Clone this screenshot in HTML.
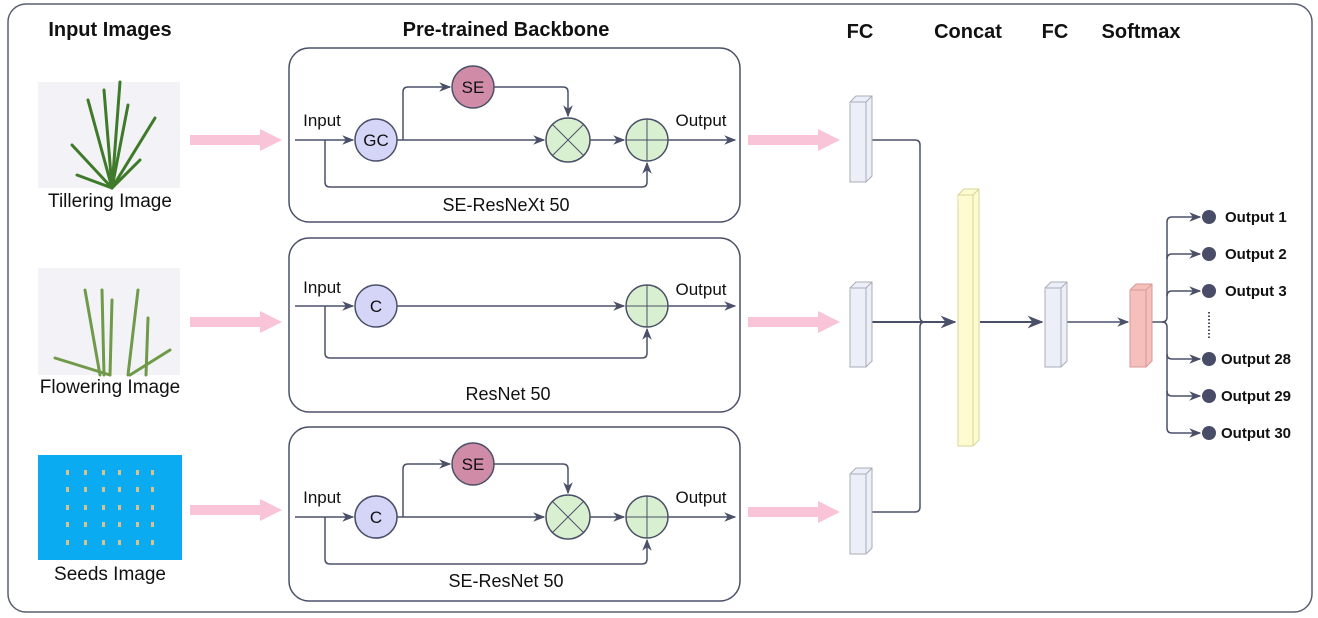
<!DOCTYPE html>
<html><head><meta charset="utf-8"><style>
html,body{margin:0;padding:0;background:#fff}
svg{display:block;font-family:"Liberation Sans",sans-serif}
</style></head><body>
<svg width="1318" height="618" viewBox="0 0 1318 618" xmlns="http://www.w3.org/2000/svg">
<defs>
<marker id="a" viewBox="0 0 10 10" refX="9" refY="5" markerWidth="8" markerHeight="8" orient="auto"><path d="M0,1 L10,5 L0,9 L3,5z" fill="#4a5068"/></marker>
<g id="pink"><rect x="0" y="-5" width="72" height="10" fill="#f9c3d8"/><path d="M70,-11 L92,0 L70,11z" fill="#f9c3d8"/></g>
</defs>
<rect x="8" y="4" width="1304" height="608" rx="18" fill="#fff" stroke="#5a5f70" stroke-width="1.5"/>
<g font-weight="bold" font-size="20" fill="#111" text-anchor="middle">
<text x="110" y="36">Input Images</text><text x="506" y="36">Pre-trained Backbone</text>
<text x="860" y="38">FC</text><text x="968" y="38">Concat</text><text x="1055" y="38">FC</text><text x="1141" y="38">Softmax</text>
</g>
<rect x="38" y="82" width="142" height="106" fill="#f3f3f7"/>
<g stroke="#3f7a2a" stroke-width="3" fill="none" stroke-linecap="round">
<path d="M112,188 L104,90"/><path d="M112,188 L120,82"/><path d="M112,188 L155,118"/><path d="M112,188 L72,145"/><path d="M112,188 L77,175"/><path d="M112,188 L140,160"/><path d="M112,188 L88,100"/><path d="M112,188 L128,105"/>
</g>
<rect x="38" y="268" width="142" height="107" fill="#f3f3f7"/>
<g stroke="#6f9a4a" stroke-width="3" fill="none" stroke-linecap="round">
<path d="M100,375 L85,290"/><path d="M104,375 L102,290"/><path d="M128,375 L138,290"/><path d="M146,375 L148,318"/><path d="M110,375 L55,358"/><path d="M130,375 L170,350"/><path d="M110,375 L112,300"/>
</g>
<rect x="38" y="455" width="144" height="105" fill="#0aabf0"/>
<g fill="#d8c48a">
<rect x="66" y="470" width="3" height="5"/><rect x="84" y="470" width="3" height="5"/><rect x="102" y="470" width="3" height="5"/><rect x="118" y="470" width="3" height="5"/><rect x="136" y="470" width="3" height="5"/><rect x="151" y="470" width="3" height="5"/>
<rect x="66" y="487" width="3" height="5"/><rect x="84" y="487" width="3" height="5"/><rect x="102" y="487" width="3" height="5"/><rect x="118" y="487" width="3" height="5"/><rect x="136" y="487" width="3" height="5"/><rect x="151" y="487" width="3" height="5"/>
<rect x="66" y="505" width="3" height="5"/><rect x="84" y="505" width="3" height="5"/><rect x="102" y="505" width="3" height="5"/><rect x="118" y="505" width="3" height="5"/><rect x="136" y="505" width="3" height="5"/><rect x="151" y="505" width="3" height="5"/>
<rect x="66" y="522" width="3" height="5"/><rect x="84" y="522" width="3" height="5"/><rect x="102" y="522" width="3" height="5"/><rect x="118" y="522" width="3" height="5"/><rect x="136" y="522" width="3" height="5"/><rect x="151" y="522" width="3" height="5"/>
<rect x="66" y="540" width="3" height="5"/><rect x="84" y="540" width="3" height="5"/><rect x="102" y="540" width="3" height="5"/><rect x="118" y="540" width="3" height="5"/><rect x="136" y="540" width="3" height="5"/><rect x="151" y="540" width="3" height="5"/>
</g>
<g font-size="19" fill="#111" text-anchor="middle">
<text x="110" y="207">Tillering Image</text><text x="110" y="393">Flowering Image</text><text x="110" y="580">Seeds Image</text>
</g>
<use href="#pink" x="190" y="140"/><use href="#pink" x="190" y="322"/><use href="#pink" x="190" y="510"/>
<use href="#pink" x="748" y="140"/><use href="#pink" x="748" y="322"/><use href="#pink" x="748" y="512"/>
<g fill="none" stroke="#4a5068" stroke-width="1.5">
<rect x="289" y="48" width="451" height="174" rx="20"/>
<rect x="289" y="238" width="451" height="174" rx="20"/>
<rect x="289" y="427" width="451" height="174" rx="20"/>
</g>
<g id="b1" stroke="#4a5068" stroke-width="1.5" fill="none">
<path d="M295,140 H353" marker-end="url(#a)"/>
<path d="M325,140 V182 Q325,187 330,187 H642 Q647,187 647,182 V163" marker-end="url(#a)"/>
<path d="M397,140 H544" marker-end="url(#a)"/>
<path d="M403,140 V92 Q403,87 408,87 H450" marker-end="url(#a)"/>
<path d="M494,87 H563 Q568,87 568,92 V116" marker-end="url(#a)"/>
<path d="M590,140 H624" marker-end="url(#a)"/>
<path d="M668,140 H735" marker-end="url(#a)"/>
<circle cx="473" cy="87" r="21" fill="#d08ba6"/>
<circle cx="568" cy="140" r="22" fill="#d9f0d0"/>
<path d="M552,124 L584,156 M584,124 L552,156" stroke-width="1"/>
<circle cx="647" cy="140" r="21" fill="#d9f0d0"/>
<path d="M626,140 H668 M647,119 V161" stroke-width="1"/>
<circle cx="376" cy="140" r="21" fill="#d5d5f7"/>
</g>
<g font-size="17" fill="#111" text-anchor="middle">
<text x="473" y="93">SE</text><text x="376" y="146">GC</text>
<text x="322" y="126">Input</text><text x="701" y="126">Output</text>
<text x="506" y="211" font-size="18">SE-ResNeXt 50</text>
</g>
<g transform="translate(0,377)">
<use href="#b1"/>
<circle cx="376" cy="140" r="21" fill="#d5d5f7" stroke="#4a5068" stroke-width="1.5"/>
<g font-size="17" fill="#111" text-anchor="middle">
<text x="473" y="93">SE</text><text x="376" y="146">C</text>
<text x="322" y="126">Input</text><text x="701" y="126">Output</text>
<text x="506" y="210" font-size="18">SE-ResNet 50</text>
</g>
</g>
<g stroke="#4a5068" stroke-width="1.5" fill="none">
<path d="M295,306 H353" marker-end="url(#a)"/>
<path d="M325,306 V353 Q325,358 330,358 H642 Q647,358 647,353 V329" marker-end="url(#a)"/>
<path d="M397,306 H624" marker-end="url(#a)"/>
<path d="M668,306 H735" marker-end="url(#a)"/>
<circle cx="647" cy="306" r="21" fill="#d9f0d0"/>
<path d="M626,306 H668 M647,285 V327" stroke-width="1"/>
<circle cx="376" cy="306" r="21" fill="#d5d5f7"/>
</g>
<g font-size="17" fill="#111" text-anchor="middle">
<text x="376" y="312">C</text><text x="322" y="293">Input</text><text x="701" y="295">Output</text>
<text x="508" y="400" font-size="18">ResNet 50</text>
</g>
<g stroke="#4a5068" stroke-width="1.5" fill="none">
<path d="M872,140 H915 Q920,140 920,145 V317 Q920,322 925,322"/>
<path d="M872,512 H915 Q920,512 920,507 V327 Q920,322 925,322"/>
<path d="M872,322 H955" marker-end="url(#a)" stroke-width="2"/>
<path d="M980,322 H1042" marker-end="url(#a)" stroke-width="2"/>
<path d="M1066,322 H1128" marker-end="url(#a)"/>
<path d="M1152,322 H1162 Q1167,322 1167,317 V222 Q1167,217 1172,217 H1200" marker-end="url(#a)"/>
<path d="M1167,259 Q1167,254 1172,254 H1200" marker-end="url(#a)"/>
<path d="M1167,296 Q1167,291 1172,291 H1200" marker-end="url(#a)"/>
<path d="M1162,322 Q1167,322 1167,327 V428 Q1167,433 1172,433 H1200" marker-end="url(#a)"/>
<path d="M1167,354 Q1167,359 1172,359 H1200" marker-end="url(#a)"/>
<path d="M1167,391 Q1167,396 1172,396 H1200" marker-end="url(#a)"/>
</g>
<g stroke="#a8adb8" stroke-width="1">
<g fill="#eceef8">
<path d="M850,102 L856,96 H872 V176 L866,182 H850Z"/><path d="M850,102 H866 V182 M866,102 L872,96"/>
<path d="M850,288 L856,282 H872 V361 L866,367 H850Z"/><path d="M850,288 H866 V367 M866,288 L872,282"/>
<path d="M850,474 L856,468 H872 V548 L866,554 H850Z"/><path d="M850,474 H866 V554 M866,474 L872,468"/>
<path d="M1045,288 L1051,282 H1067 V361 L1061,367 H1045Z"/><path d="M1045,288 H1061 V367 M1061,288 L1067,282"/>
</g>
<g fill="#fdfcd0" stroke="#d8d49a">
<path d="M958,195 L964,189 H979 V440 L973,446 H958Z"/><path d="M958,195 H973 V446 M973,195 L979,189"/>
</g>
<g fill="#f5c0bb" stroke="#d89a94">
<path d="M1130,290 L1136,284 H1152 V361 L1146,367 H1130Z"/><path d="M1130,290 H1146 V367 M1146,290 L1152,284"/>
</g>
</g>
<g fill="#484c66">
<circle cx="1209" cy="217" r="7"/><circle cx="1209" cy="254" r="7"/><circle cx="1209" cy="291" r="7"/>
<circle cx="1209" cy="359" r="7"/><circle cx="1209" cy="396" r="7"/><circle cx="1209" cy="433" r="7"/>
</g>
<path d="M1209,312 V338" stroke="#484c66" stroke-width="2" stroke-dasharray="1.5 2"/>
<g font-size="15" font-weight="bold" fill="#111">
<text x="1225" y="222">Output 1</text><text x="1225" y="259">Output 2</text><text x="1225" y="296">Output 3</text>
<text x="1221" y="364">Output 28</text><text x="1221" y="401">Output 29</text><text x="1221" y="438">Output 30</text>
</g>
</svg>
</body></html>
